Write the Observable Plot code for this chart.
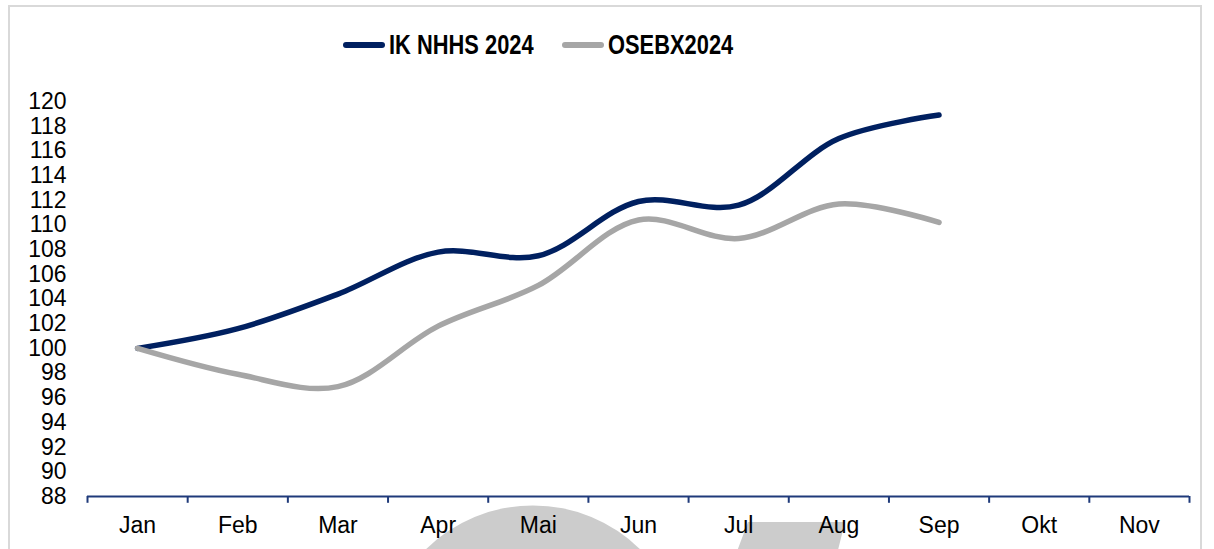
<!DOCTYPE html>
<html>
<head>
<meta charset="utf-8">
<script src="https://cdn.jsdelivr.net/npm/d3@7"></script>
<script src="https://cdn.jsdelivr.net/npm/@observablehq/plot@0.6"></script>
<style>
  html, body { margin: 0; padding: 0; background: #fff; overflow: hidden; }
  #wrap { position: relative; width: 1214px; height: 549px; font-family: "Liberation Sans", Arial, sans-serif; }
  #frame { position: absolute; left: 8px; top: 5px; width: 1194px; height: 600px; border: 2px solid #d9d9d9; box-sizing: border-box; }
  #wm { position: absolute; left: 0; top: 0; z-index: 0; }
  #legend { position: relative; height: 75px; z-index: 1; }
  .item { position: absolute; top: 29px; height: 32px; display: flex; align-items: center; }
  .sw { width: 42px; height: 6px; border-radius: 3px; margin-right: 4px; flex: none; }
  .lab { display: inline-block; white-space: nowrap; transform: scaleX(0.81); transform-origin: left center; font-family: "Liberation Sans", Arial, sans-serif; font-weight: bold; font-size: 27px; color: #000; }
  #chart { position: relative; z-index: 1; }
  #chart svg { background: transparent !important; }
</style>
</head>
<body>
<div id="wrap">
  <svg id="wm" width="1214" height="549">
    <circle cx="533" cy="658" r="152.6" fill="#cccccc"></circle>
    <polygon points="748,522 845,522 833,570 730,570" fill="#cccccc"></polygon>
  </svg>
  <div id="frame"></div>
  <div id="legend"></div>
  <div id="chart"></div>
</div>
<script>
const months = ["Jan", "Feb", "Mar", "Apr", "Mai", "Jun", "Jul", "Aug", "Sep", "Okt", "Nov"];
const seriesNames = ["IK NHHS 2024", "OSEBX2024"];
const ikNhhs = [100, 101.6, 104.4, 107.8, 107.5, 111.9, 111.6, 117.0, 118.9];
const osebx = [100, 97.9, 96.9, 101.8, 105.1, 110.4, 108.9, 111.7, 110.2];
const yTicks = d3.range(88, 121, 2);
const colors = ["#002060", "#a6a6a6"];

// legend
const legend = document.getElementById("legend");
const legendLeft = [343, 562];
seriesNames.forEach((name, i) => {
  const it = document.createElement("div");
  it.className = "item";
  it.style.left = legendLeft[i] + "px";
  it.innerHTML = `<div class="sw" style="background:${colors[i]}"></div><div class="lab">${name}</div>`;
  legend.appendChild(it);
});

const data = [];
[ikNhhs, osebx].forEach((vals, s) => vals.forEach((v, i) => data.push({series: seriesNames[s], i, v})));
const boundaries = d3.range(months.length + 1).map(i => i - 0.5);

const plot = Plot.plot({
  width: 1214,
  height: 474,
  marginLeft: 87,
  marginRight: 25,
  marginTop: 26,
  marginBottom: 53,
  style: {fontFamily: "'Liberation Sans', Arial, sans-serif", fontSize: "23px", color: "#000", background: "transparent", overflow: "visible"},
  x: {domain: [-0.5, months.length - 0.5]},
  y: {domain: [88, 120]},
  color: {domain: seriesNames, range: colors},
  marks: [
    Plot.axisY({ticks: yTicks, tickSize: 0, tickPadding: 21, label: null, fontSize: 23}),
    Plot.axisX({ticks: d3.range(months.length), tickFormat: i => months[i], tickSize: 0, tickPadding: 20, label: null, fontSize: 23}),
    Plot.ruleY([88], {stroke: "#1f3a7a", strokeWidth: 2}),
    Plot.ruleX(boundaries, {x: d => d, y1: 88, y2: 87.45, stroke: "#1f3a7a", strokeWidth: 2}),
    Plot.line(data, {x: "i", y: "v", z: "series", stroke: "series", strokeWidth: 5.5, curve: "catmull-rom", strokeLinecap: "round", strokeLinejoin: "round"})
  ]
});
document.getElementById("chart").appendChild(plot);
</script>
</body>
</html>
